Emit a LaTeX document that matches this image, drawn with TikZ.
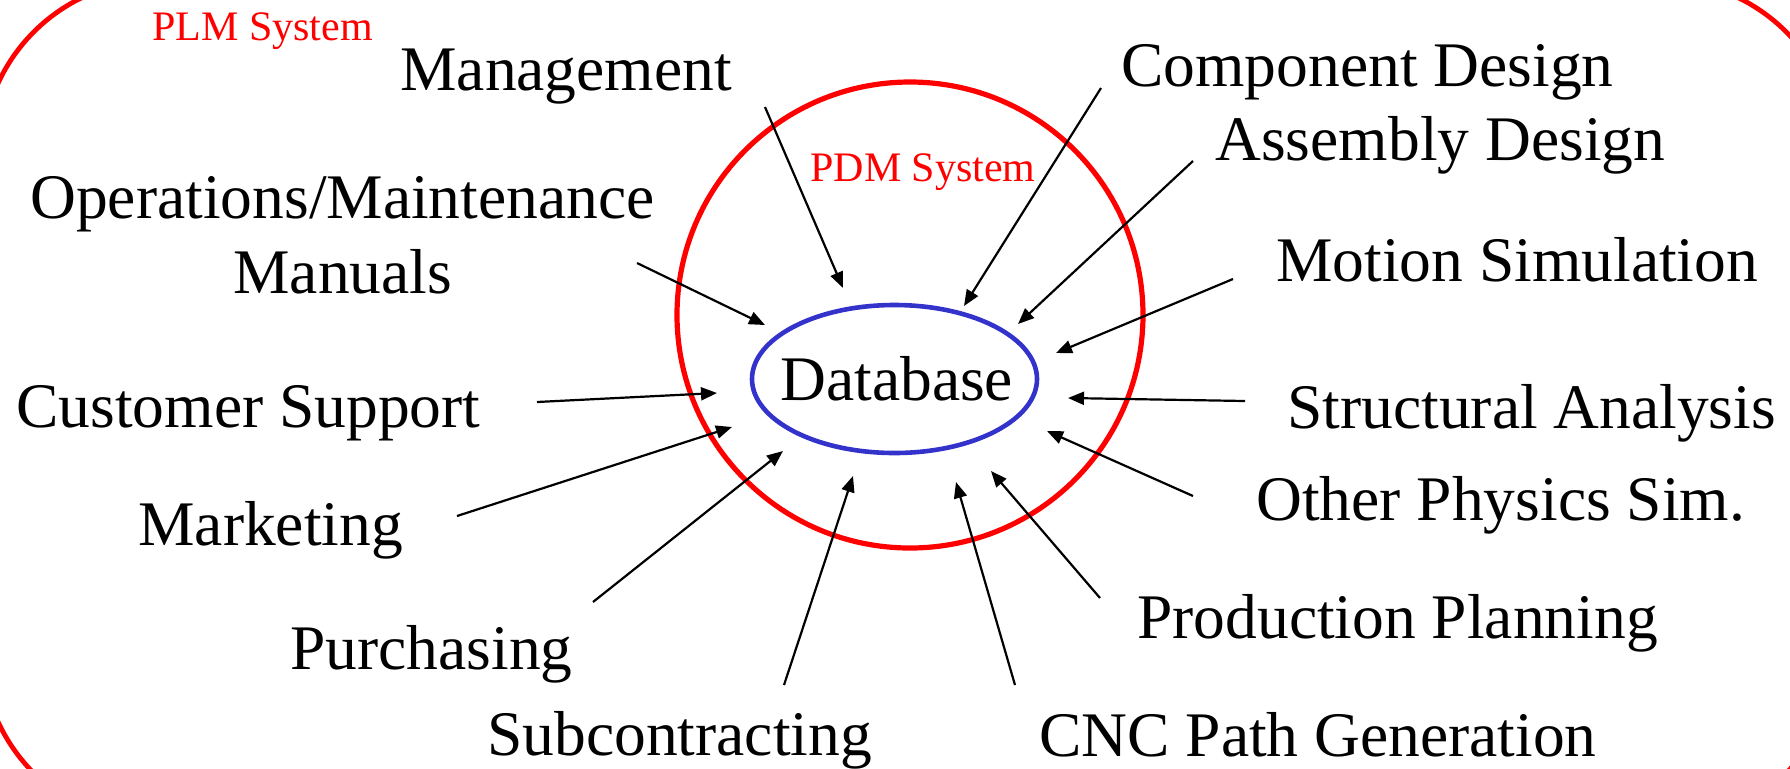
\documentclass[tikz,border=0pt]{standalone}
\usepackage{fontspec}
\setmainfont{Liberation Serif}
\usetikzlibrary{arrows.meta}
\definecolor{dbblue}{RGB}{51,51,204}
\tikzset{
  lbl/.style={anchor=base west, inner sep=0pt, font=\fontsize{31.75}{37.5}\selectfont},
  syslbl/.style={anchor=base west, inner sep=0pt, text=red, font=\fontsize{21}{25}\selectfont},
  feed/.style={draw=black, line width=1.1pt, -{Triangle[length=8pt,width=6.5pt]}},
  plm/.style={draw=red, line width=2.4pt, rounded corners=88.5pt},
  pdm/.style={draw=red, line width=2.6pt},
  db/.style={draw=dbblue, line width=2.3pt},
}
\begin{document}
\begin{tikzpicture}[x=0.5pt, y=-0.5pt]
\useasboundingbox (0,0) rectangle (1790,768);
\clip (0,0) rectangle (1790,768);
% PLM system boundary
\draw[plm] (-18,-20) rectangle (1838,825);
\node[syslbl] (plmlbl) at (152,40) {PLM System};
% PDM system circle
\draw[pdm] (910,315) circle [radius=233];
\node[syslbl] (pdmlbl) at (810,181) {PDM System};
% Database
\draw[db] (894.5,379) ellipse [x radius=142.5, y radius=74];
\node[lbl] (database) at (780,400) {Database};
% labels
\node[lbl] (mgmt) at (400,90) {Management};
\node[lbl] (comp) at (1121,86) {Component Design};
\node[lbl] (asm) at (1215,160) {Assembly Design};
\node[lbl] (ops) at (30,218) {Operations/Maintenance};
\node[lbl] (opsb) at (233,293) {Manuals};
\node[lbl] (motion) at (1276,281) {Motion Simulation};
\node[lbl] (cust) at (16,427) {Customer Support};
\node[lbl] (struct) at (1287,428) {Structural Analysis};
\node[lbl] (mkt) at (138,545) {Marketing};
\node[lbl] (other) at (1256,520) {Other Physics Sim.};
\node[lbl] (purch) at (290,669) {Purchasing};
\node[lbl] (prod) at (1137,638) {Production Planning};
\node[lbl] (sub) at (487,755) {Subcontracting};
\node[lbl] (cnc) at (1039,756) {CNC Path Generation};
% arrow end points
\coordinate (mgmtS) at (765,107);   \coordinate (mgmtT) at (843,288);
\coordinate (compS) at (1101,88);   \coordinate (compT) at (964,306);
\coordinate (asmS) at (1193,161);   \coordinate (asmT) at (1018,324);
\coordinate (motS) at (1233,279);   \coordinate (motT) at (1056,353);
\coordinate (strS) at (1245,401);   \coordinate (strT) at (1068,398);
\coordinate (othS) at (1193,496);   \coordinate (othT) at (1047,431);
\coordinate (prodS) at (1100,598);  \coordinate (prodT) at (991,471);
\coordinate (cncS) at (1015,685);   \coordinate (cncT) at (956,482);
\coordinate (subS) at (784,685);    \coordinate (subT) at (853,476);
\coordinate (purS) at (593,602);    \coordinate (purT) at (783,451);
\coordinate (mktS) at (457,516);    \coordinate (mktT) at (732,427);
\coordinate (custS) at (537,402);   \coordinate (custT) at (717,393);
\coordinate (opsS) at (637,263);    \coordinate (opsT) at (765,325);
% arrows
\draw[feed] (mgmtS) -- (mgmtT);
\draw[feed] (compS) -- (compT);
\draw[feed] (asmS) -- (asmT);
\draw[feed] (motS) -- (motT);
\draw[feed] (strS) -- (strT);
\draw[feed] (othS) -- (othT);
\draw[feed] (prodS) -- (prodT);
\draw[feed] (cncS) -- (cncT);
\draw[feed] (subS) -- (subT);
\draw[feed] (purS) -- (purT);
\draw[feed] (mktS) -- (mktT);
\draw[feed] (custS) -- (custT);
\draw[feed] (opsS) -- (opsT);
\end{tikzpicture}
\end{document}
